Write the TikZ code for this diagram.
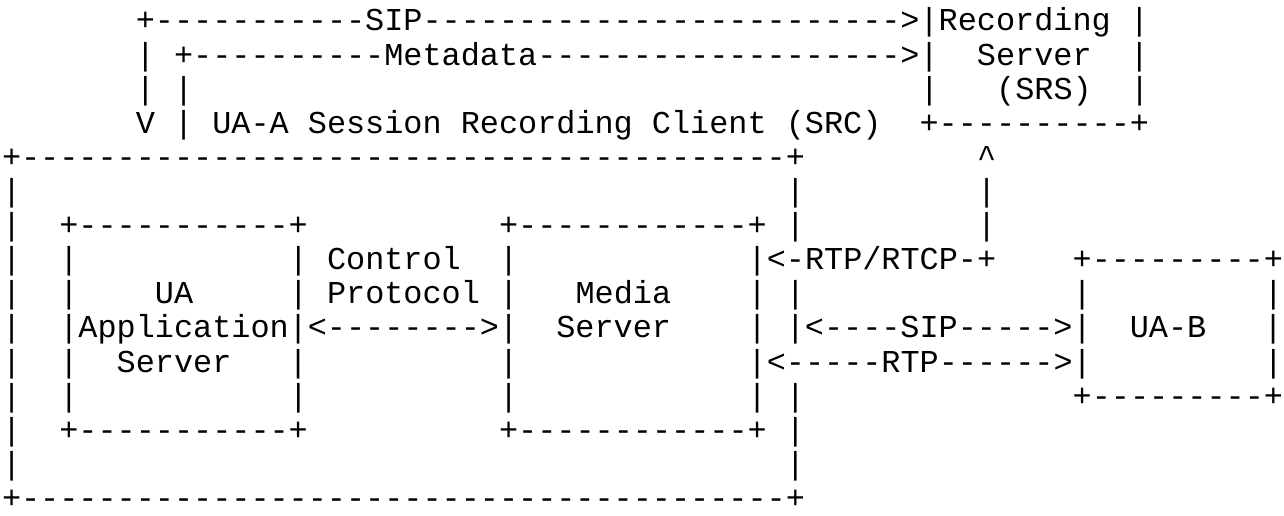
\documentclass[tikz,border=0pt]{standalone}
\usepackage{fontspec}
\setmonofont{Liberation Mono}[WordSpace={1,0,0}]
\newlength\chw
\setlength\chw{19.12pt}
\newcommand\bl[1]{\hspace*{#1\chw}}
\newcount\dshc
\newcommand\dsh[1]{\dshc=0 \loop\ifnum\dshc<#1 -\advance\dshc by 1 \repeat}
\tikzset{asc/.style={anchor=base west, inner sep=0pt, outer sep=0pt, text=black,
  font=\ttfamily\fontsize{31.86pt}{34.1pt}\selectfont}}
\begin{document}
\begin{tikzpicture}[x=1pt,y=-1pt]
\useasboundingbox[fill=white] (0,0) rectangle (1284,516);
\def\lx{2}
\node[asc] (r0) at (\lx, 31.0) {\bl{7}+\dsh{11}SIP\dsh{25}>|Recording~|};
\node[asc] (r1) at (\lx, 65.1) {\bl{7}|~+\dsh{10}Metadata\dsh{19}>|\bl{2}Server\bl{2}|};
\node[asc] (r2) at (\lx, 99.2) {\bl{7}|~|\bl{38}|\bl{3}(SRS)\bl{2}|};
\node[asc] (r3) at (\lx, 133.3) {\bl{7}V~|~UA-A Session Recording Client (SRC)\bl{2}+\dsh{10}+};
\node[asc] (r4) at (\lx, 167.4) {+\dsh{40}+\bl{9}\textasciicircum};
\node[asc] (r5) at (\lx, 201.5) {|\bl{40}|\bl{9}|};
\node[asc] (r6) at (\lx, 235.6) {|\bl{2}+\dsh{11}+\bl{10}+\dsh{12}+~|\bl{9}|};
\node[asc] (r7) at (\lx, 269.7) {|\bl{2}|\bl{11}|~Control\bl{2}|\bl{12}|<-RTP/RTCP-+\bl{4}+\dsh{9}+};
\node[asc] (r8) at (\lx, 303.8) {|\bl{2}|\bl{4}UA\bl{5}|~Protocol~|\bl{3}Media\bl{4}|~|\bl{14}|\bl{9}|};
\node[asc] (r9) at (\lx, 337.9) {|\bl{2}|Application|<\dsh{8}>|\bl{2}Server\bl{4}|~|<\dsh{4}SIP\dsh{5}>|\bl{2}UA-B\bl{3}|};
\node[asc] (r10) at (\lx, 372.0) {|\bl{2}|\bl{2}Server\bl{3}|\bl{10}|\bl{12}|<\dsh{5}RTP\dsh{6}>|\bl{9}|};
\node[asc] (r11) at (\lx, 406.1) {|\bl{2}|\bl{11}|\bl{10}|\bl{12}|~|\bl{14}+\dsh{9}+};
\node[asc] (r12) at (\lx, 440.2) {|\bl{2}+\dsh{11}+\bl{10}+\dsh{12}+~|};
\node[asc] (r13) at (\lx, 474.3) {|\bl{40}|};
\node[asc] (r14) at (\lx, 508.4) {+\dsh{40}+};
\end{tikzpicture}
\end{document}
